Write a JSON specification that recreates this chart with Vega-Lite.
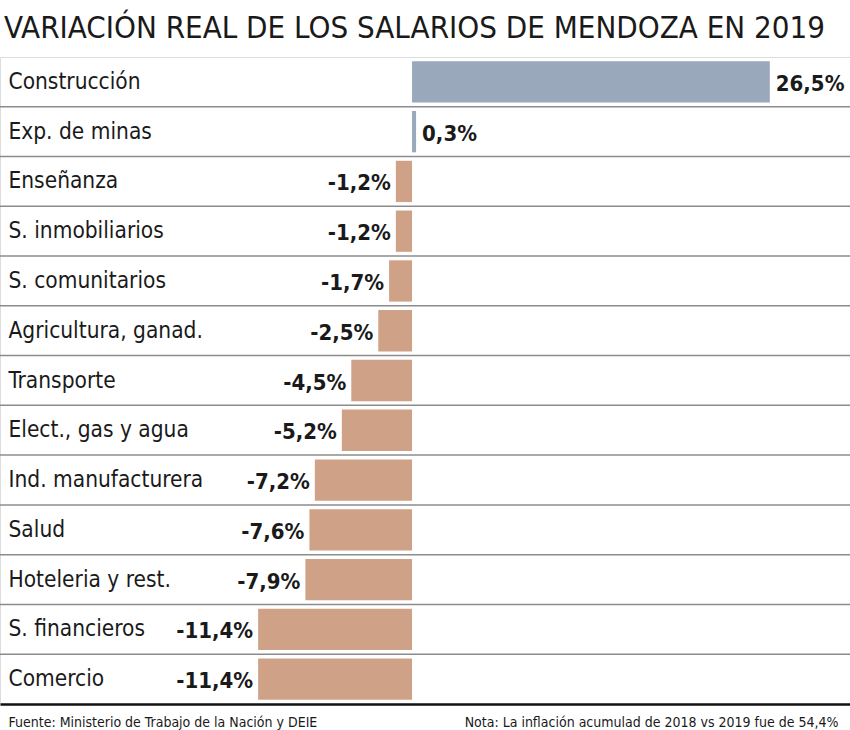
{
  "$schema": "https://vega.github.io/schema/vega-lite/v6.json",
  "width": 850,
  "height": 647,
  "autosize": {"type": "none"},
  "padding": {"top": 57, "left": 0, "right": 0, "bottom": 26},
  "background": "white",
  "title": {
    "text": "VARIACIÓN REAL DE LOS SALARIOS DE MENDOZA EN 2019",
    "anchor": "start",
    "frame": "group",
    "offset": 12,
    "dx": 4,
    "fontSize": 31,
    "font": "DejaVu Sans Condensed, sans-serif",
    "fontWeight": "normal",
    "color": "#1a1a1a"
  },
  "data": {
    "values": [
      {"cat": "Construcción", "valor": 26.5, "etiqueta": "26,5%"},
      {"cat": "Exp. de minas", "valor": 0.3, "etiqueta": "0,3%"},
      {"cat": "Enseñanza", "valor": -1.2, "etiqueta": "-1,2%"},
      {"cat": "S. inmobiliarios", "valor": -1.2, "etiqueta": "-1,2%"},
      {"cat": "S. comunitarios", "valor": -1.7, "etiqueta": "-1,7%"},
      {"cat": "Agricultura, ganad.", "valor": -2.5, "etiqueta": "-2,5%"},
      {"cat": "Transporte", "valor": -4.5, "etiqueta": "-4,5%"},
      {"cat": "Elect., gas y agua", "valor": -5.2, "etiqueta": "-5,2%"},
      {"cat": "Ind. manufacturera", "valor": -7.2, "etiqueta": "-7,2%"},
      {"cat": "Salud", "valor": -7.6, "etiqueta": "-7,6%"},
      {"cat": "Hoteleria y rest.", "valor": -7.9, "etiqueta": "-7,9%"},
      {"cat": "S. financieros", "valor": -11.4, "etiqueta": "-11,4%"},
      {"cat": "Comercio", "valor": -11.4, "etiqueta": "-11,4%"}
    ]
  },
  "encoding": {
    "y": {
      "field": "cat",
      "type": "nominal",
      "sort": null,
      "scale": {"paddingInner": 0.17, "paddingOuter": 0.085},
      "axis": {
        "orient": "left",
        "ticks": false,
        "domain": false,
        "grid": false,
        "labelAlign": "left",
        "labelPadding": -8,
        "labelFontSize": 22.5,
        "labelFont": "DejaVu Sans Condensed, sans-serif",
        "labelColor": "#1a1a1a",
        "labelLimit": 0,
        "title": "Nota: La inflación acumulad de 2018 vs 2019 fue de 54,4%",
        "titleAngle": 0,
        "titleX": 838,
        "titleY": 669,
        "titleAlign": "right",
        "titleBaseline": "alphabetic",
        "titleFontSize": 14,
        "titleFontWeight": "normal",
        "titleFont": "DejaVu Sans Condensed, sans-serif",
        "titleColor": "#1a1a1a"
      }
    }
  },
  "layer": [
    {
      "transform": [{"filter": "datum.cat !== 'Comercio'"}],
      "mark": {"type": "rule", "color": "#8c8c8c", "strokeWidth": 1.5, "yOffset": 4.2},
      "encoding": {
        "y": {"field": "cat", "type": "nominal", "sort": null, "bandPosition": 1}
      }
    },
    {
      "mark": {"type": "bar"},
      "encoding": {
        "x": {
          "field": "valor",
          "type": "quantitative",
          "scale": {"domain": [-30.52, 32.44], "nice": false, "zero": false},
          "axis": {
            "orient": "bottom",
            "labels": false,
            "ticks": false,
            "grid": false,
            "domain": true,
            "domainColor": "#111111",
            "domainWidth": 2.5,
            "title": "Fuente: Ministerio de Trabajo de la Nación y DEIE",
            "titleAnchor": "start",
            "titleAlign": "left",
            "titleX": 8,
            "titleY": 22,
            "titleBaseline": "alphabetic",
            "titleFontSize": 14,
            "titleFontWeight": "normal",
            "titleFont": "DejaVu Sans Condensed, sans-serif",
            "titleColor": "#1a1a1a"
          }
        },
        "x2": {"datum": 0},
        "color": {
          "condition": {"test": "datum.valor > 0", "value": "#99a9bb"},
          "value": "#cfa287"
        }
      }
    },
    {
      "mark": {"type": "rule", "color": "#111111", "strokeWidth": 2},
      "encoding": {"x": {"datum": 0, "type": "quantitative"}}
    },
    {
      "transform": [{"filter": "datum.valor > 0"}],
      "mark": {
        "type": "text",
        "align": "left",
        "baseline": "middle",
        "dx": 6,
        "dy": 2,
        "fontSize": 22,
        "fontWeight": "bold",
        "font": "DejaVu Sans Condensed, sans-serif",
        "color": "#1a1a1a"
      },
      "encoding": {
        "x": {"field": "valor", "type": "quantitative"},
        "text": {"field": "etiqueta"}
      }
    },
    {
      "transform": [{"filter": "datum.valor < 0"}],
      "mark": {
        "type": "text",
        "align": "right",
        "baseline": "middle",
        "dx": -5,
        "dy": 2,
        "fontSize": 22,
        "fontWeight": "bold",
        "font": "DejaVu Sans Condensed, sans-serif",
        "color": "#1a1a1a"
      },
      "encoding": {
        "x": {"field": "valor", "type": "quantitative"},
        "text": {"field": "etiqueta"}
      }
    }
  ]
}
